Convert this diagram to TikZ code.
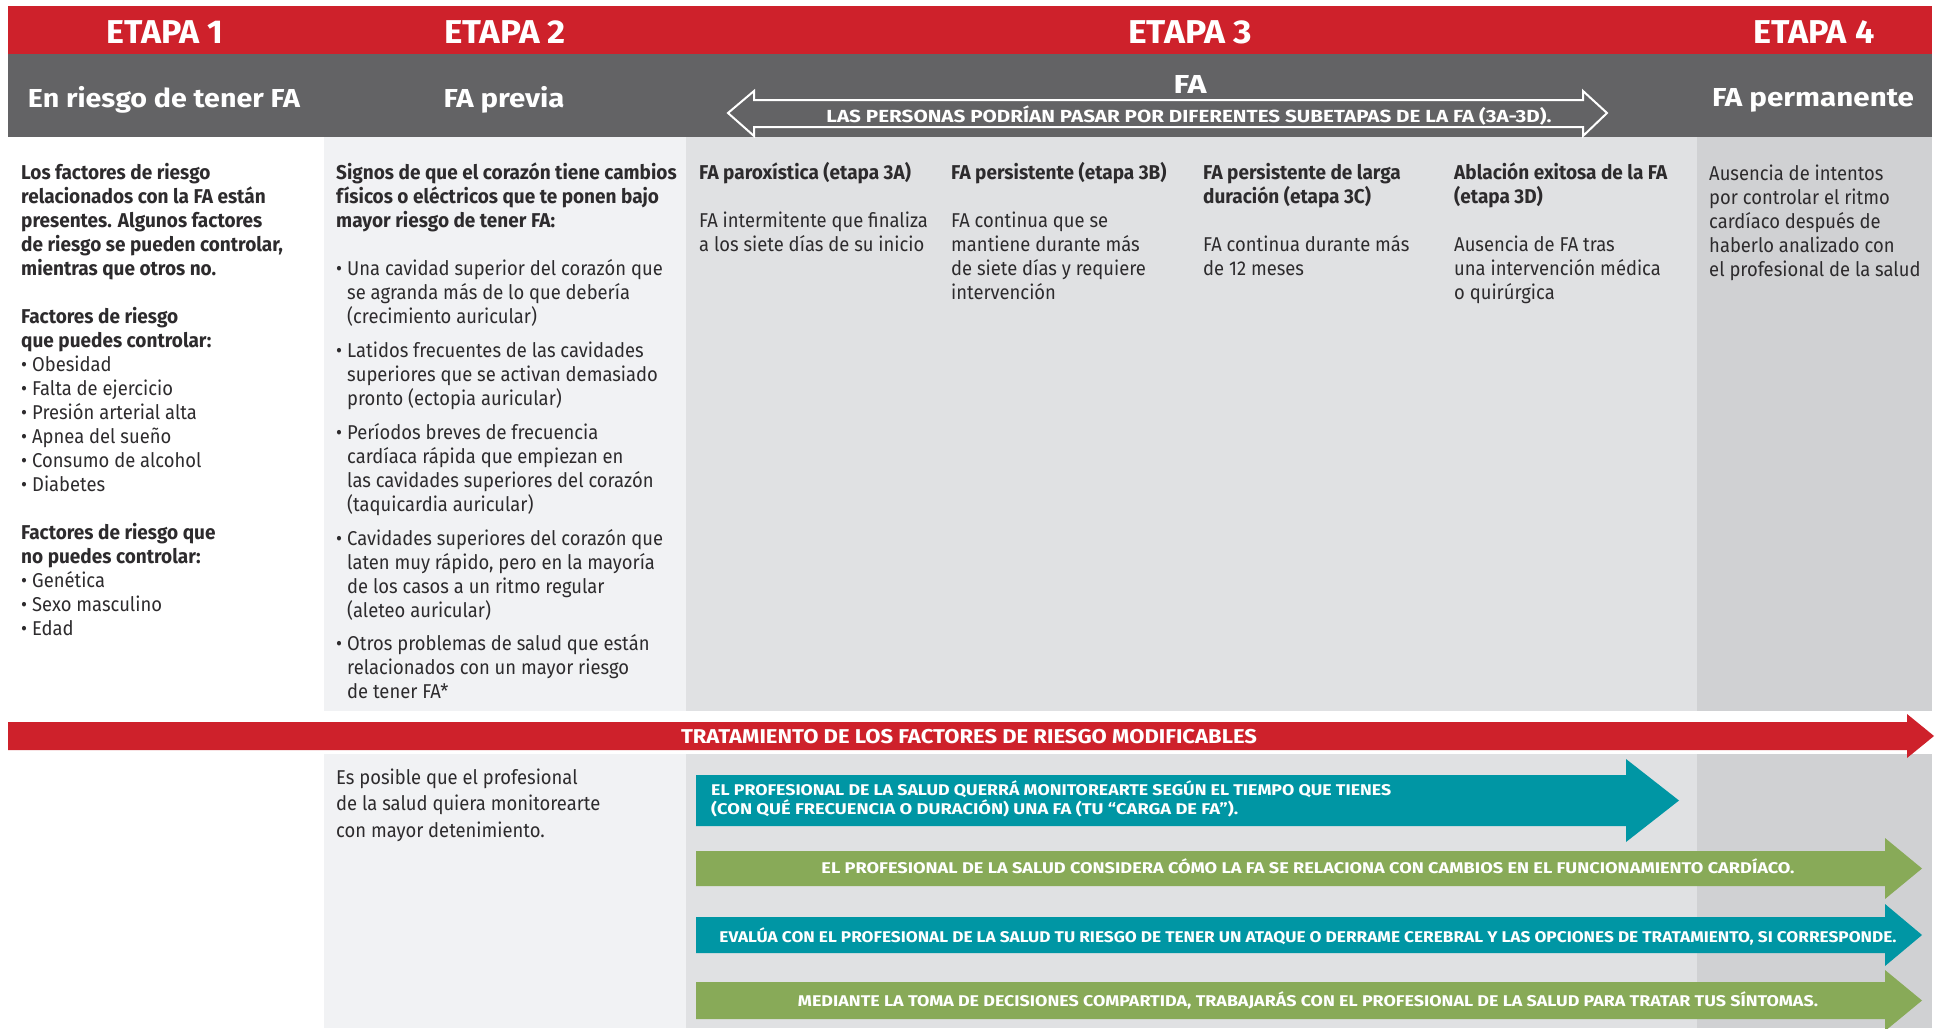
\documentclass[tikz,border=0pt]{standalone}
\usepackage{fontspec}
\setmainfont{Fira Sans}[FakeStretch=0.92, BoldFeatures={FakeStretch=0.95}]
\usepackage{graphicx}
\definecolor{hdred}{RGB}{206,33,43}
\definecolor{hdgray}{RGB}{99,99,101}
\definecolor{bgtwo}{RGB}{241,242,244}
\definecolor{bgthree}{RGB}{224,225,227}
\definecolor{bgfour}{RGB}{208,209,211}
\definecolor{tealc}{RGB}{0,150,164}
\definecolor{greenc}{RGB}{136,170,88}
\definecolor{txt}{RGB}{45,43,45}
\newcommand{\fitw}[2]{\resizebox{#1}{\height}{#2}}
\newcommand{\bul}{\makebox[11pt][l]{•}}
\newcommand{\ptx}[2]{\parbox[t]{#1}{\raggedright #2}}
\tikzset{
  etapa/.style={anchor=base, inner sep=0pt, text=white, font=\bfseries\fontsize{33}{33}\selectfont},
  subhd/.style={anchor=base, inner sep=0pt, text=white, font=\bfseries\fontsize{26}{26}\selectfont},
  body/.style={anchor=base west, inner sep=0pt, text=txt, font=\fontsize{20}{24}\selectfont},
  arrtxt/.style={anchor=base, inner sep=0pt, text=white, font=\bfseries\fontsize{15.5}{19}\selectfont},
}
\begin{document}
\begin{tikzpicture}[x=1pt,y=-1pt]
\useasboundingbox (0,0) rectangle (1935,1028);
\fill[white] (0,0) rectangle (1935,1028);
% header bands
\fill[hdred] (8,6) rectangle (1932,54);
\fill[hdgray] (8,54) rectangle (1932,137);
% upper column backgrounds
\fill[bgtwo] (324,137) rectangle (686,711);
\fill[bgthree] (686,137) rectangle (1697,711);
\fill[bgfour] (1697,137) rectangle (1932,711);
% lower column backgrounds
\fill[bgtwo] (324,754) rectangle (686,1028);
\fill[bgthree] (686,754) rectangle (1697,1028);
\fill[bgfour] (1697,754) rectangle (1932,1028);
% headings
\node[etapa] (e1) at (165,43) {\fitw{117pt}{ETAPA 1}};
\node[etapa] (e2) at (505,43) {\fitw{122pt}{ETAPA 2}};
\node[etapa] (e3) at (1190,43) {\fitw{124pt}{ETAPA 3}};
\node[etapa] (e4) at (1814,43) {\fitw{121pt}{ETAPA 4}};
\node[subhd] (s1) at (164,107) {\fitw{272pt}{En riesgo de tener FA}};
\node[subhd] (s2) at (504,107) {\fitw{121pt}{FA previa}};
\node[subhd] (s4) at (1813,106) {\fitw{202pt}{FA permanente}};
\node[subhd] (s3) at (1190,93) {\fitw{33pt}{FA}};
% double arrow
\draw[white, line width=2pt, line join=miter] (728,113) -- (754,91) -- (754,100) -- (1583,100) -- (1583,91) -- (1607,113) -- (1583,136) -- (1583,127) -- (754,127) -- (754,136) -- cycle;
\node[anchor=base, inner sep=0pt, text=white, font=\bfseries\fontsize{17.5}{20}\selectfont] (sub) at (1189,122) {\fitw{725pt}{LAS PERSONAS PODRÍAN PASAR POR DIFERENTES SUBETAPAS DE LA FA (3A-3D).}};
% column 1
\node[body] (c1) at (21,179) {\ptx{500pt}{{\bfseries Los factores de riesgo\\ relacionados con la FA están\\ presentes. Algunos factores\\ de riesgo se pueden controlar,\\ mientras que otros no.}\\[24pt]
{\bfseries Factores de riesgo\\ que puedes controlar:}\\
\bul Obesidad\\ \bul Falta de ejercicio\\ \bul Presión arterial alta\\ \bul Apnea del sueño\\ \bul Consumo de alcohol\\ \bul Diabetes\\[24pt]
{\bfseries Factores de riesgo que\\ no puedes controlar:}\\
\bul Genética\\ \bul Sexo masculino\\ \bul Edad}};
% column 2
\node[body] (c2) at (336,179) {\ptx{500pt}{\bfseries Signos de que el corazón tiene cambios\\ físicos o eléctricos que te ponen bajo\\ mayor riesgo de tener FA:}};
\node[body] (b1) at (336,275) {\bul\ptx{500pt}{Una cavidad superior del corazón que\\ se agranda más de lo que debería\\ (crecimiento auricular)}};
\node[body] (b2) at (336,357) {\bul\ptx{500pt}{Latidos frecuentes de las cavidades\\ superiores que se activan demasiado\\ pronto (ectopia auricular)}};
\node[body] (b3) at (336,439) {\bul\ptx{500pt}{Períodos breves de frecuencia\\ cardíaca rápida que empiezan en\\ las cavidades superiores del corazón\\ (taquicardia auricular)}};
\node[body] (b4) at (336,545) {\bul\ptx{500pt}{Cavidades superiores del corazón que\\ laten muy rápido, pero en la mayoría\\ de los casos a un ritmo regular\\ (aleteo auricular)}};
\node[body] (b5) at (336,650) {\bul\ptx{500pt}{Otros problemas de salud que están\\ relacionados con un mayor riesgo\\ de tener FA*}};
% column 3
\node[body] (c3a) at (699,179) {\ptx{500pt}{{\bfseries FA paroxística (etapa 3A)}\\[24pt] FA intermitente que finaliza\\ a los siete días de su inicio}};
\node[body] (c3b) at (951,179) {\ptx{500pt}{{\bfseries FA persistente (etapa 3B)}\\[24pt] FA continua que se\\ mantiene durante más\\ de siete días y requiere\\ intervención}};
\node[body] (c3c) at (1203,179) {\ptx{500pt}{{\bfseries FA persistente de larga\\ duración (etapa 3C)}\\[24pt] FA continua durante más\\ de 12 meses}};
\node[body] (c3d) at (1454,179) {\ptx{500pt}{{\bfseries Ablación exitosa de la FA\\ (etapa 3D)}\\[24pt] Ausencia de FA tras\\ una intervención médica\\ o quirúrgica}};
% column 4
\node[body] (c4) at (1709,180) {\ptx{220pt}{Ausencia de intentos\\ por controlar el ritmo\\ cardíaco después de\\ haberlo analizado con\\ el profesional de la salud}};
% red treatment arrow
\fill[hdred] (8,722) -- (1907,722) -- (1907,714) -- (1934,736) -- (1907,758) -- (1907,750) -- (8,750) -- cycle;
\node[anchor=base, inner sep=0pt, text=white, font=\bfseries\fontsize{20}{24}\selectfont] (trat) at (969,743) {\fitw{576pt}{TRATAMIENTO DE LOS FACTORES DE RIESGO MODIFICABLES}};
% lower column 2 text
\node[body, font=\fontsize{20}{26.5}\selectfont] (low2) at (336,784) {\ptx{500pt}{Es posible que el profesional\\ de la salud quiera monitorearte\\ con mayor detenimiento.}};
% arrows
\fill[tealc] (696,775) -- (1626,775) -- (1626,759) -- (1679,800.5) -- (1626,842) -- (1626,826) -- (696,826) -- cycle;
\fill[greenc] (696,851) -- (1885,851) -- (1885,838) -- (1922,868.5) -- (1885,899) -- (1885,886) -- (696,886) -- cycle;
\fill[tealc] (696,917) -- (1885,917) -- (1885,904) -- (1922,935) -- (1885,966) -- (1885,953) -- (696,953) -- cycle;
\fill[greenc] (696,982) -- (1885,982) -- (1885,970) -- (1922,1000.5) -- (1885,1031) -- (1885,1019) -- (696,1019) -- cycle;
\node[arrtxt, anchor=base west] (t1a) at (711,795) {\fitw{680pt}{EL PROFESIONAL DE LA SALUD QUERRÁ MONITOREARTE SEGÚN EL TIEMPO QUE TIENES}};
\node[arrtxt, anchor=base west] (t1b) at (711,814) {\fitw{527pt}{(CON QUÉ FRECUENCIA O DURACIÓN) UNA FA (TU “CARGA DE FA”).}};
\node[arrtxt] (t2) at (1308,873) {\fitw{973pt}{EL PROFESIONAL DE LA SALUD CONSIDERA CÓMO LA FA SE RELACIONA CON CAMBIOS EN EL FUNCIONAMIENTO CARDÍACO.}};
\node[arrtxt] (t3) at (1308,942) {\fitw{1177pt}{EVALÚA CON EL PROFESIONAL DE LA SALUD TU RIESGO DE TENER UN ATAQUE O DERRAME CEREBRAL Y LAS OPCIONES DE TRATAMIENTO, SI CORRESPONDE.}};
\node[arrtxt] (t4) at (1308,1006) {\fitw{1020pt}{MEDIANTE LA TOMA DE DECISIONES COMPARTIDA, TRABAJARÁS CON EL PROFESIONAL DE LA SALUD PARA TRATAR TUS SÍNTOMAS.}};
\end{tikzpicture}
\end{document}
